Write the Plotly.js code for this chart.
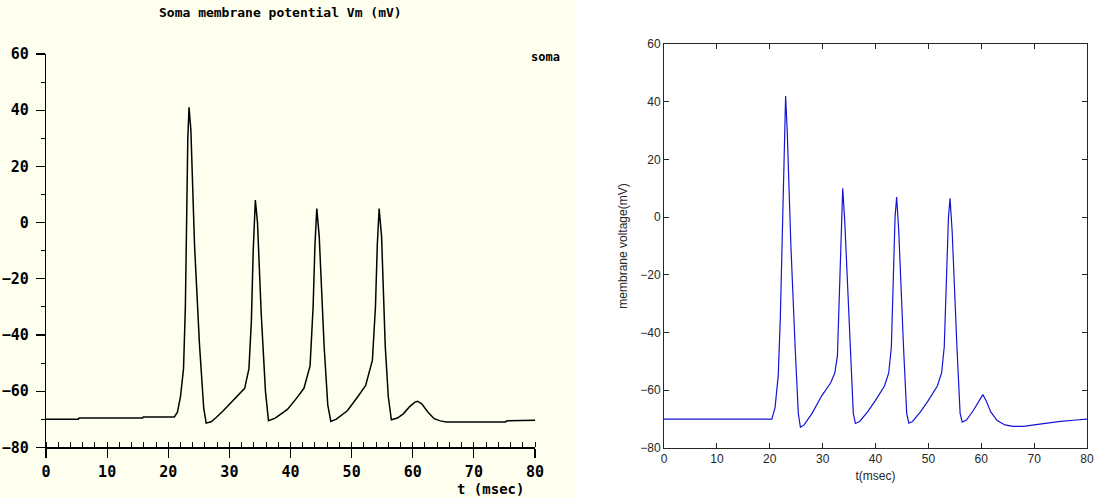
<!DOCTYPE html>
<html>
<head>
<meta charset="utf-8">
<script src="https://cdn.plot.ly/plotly-3.0.1.min.js"></script>
<style>
html,body{margin:0;padding:0;background:#ffffff;}
#chart{width:1098px;height:498px;}
</style>
</head>
<body>
<div id="chart"></div>
<script>
// Left panel (GENESIS-style soma trace)
const somaTime = [0, 5.3, 5.4, 15.8, 15.9, 21, 21.5, 22, 22.5, 22.8, 23.0, 23.2, 23.4, 23.7, 24.3, 25.1, 25.8, 26.2, 27, 27.8, 29, 30.3, 31.5, 32.5, 33.2, 33.6, 33.9, 34.25, 34.6, 35.2, 35.9, 36.4, 37.5, 39.5, 41, 42.2, 43.2, 43.7, 44.0, 44.3, 44.7, 45.5, 46.1, 46.6, 47.5, 49.3, 51, 52.3, 53.4, 53.9, 54.2, 54.5, 54.9, 55.5, 56.0, 56.5, 57.5, 58.5, 59.5, 60.3, 60.8, 61.5, 62.5, 63.5, 64.5, 65.5, 75.2, 75.3, 80];
const somaVm   = [-70, -70, -69.6, -69.6, -69.2, -69.2, -67.5, -62, -52, -30, 0, 30, 41, 33, -8, -43, -66, -71.4, -70.9, -69.5, -67, -64, -61.5, -59, -52, -35, -10, 8, 0, -32, -60, -70.5, -69.6, -66.5, -62.5, -59, -51, -30, -8, 5, -5, -44, -65, -70.8, -70, -67, -62, -58, -49, -30, -8, 5, -5, -44, -62, -70.2, -69.6, -68, -65.5, -64, -63.6, -64.6, -67.5, -69.8, -70.6, -71, -71, -70.6, -70.4];

// Right panel (MATLAB-style membrane voltage)
const simTime = [0, 20.4, 21, 21.6, 22, 22.4, 22.8, 23.0, 23.3, 24, 24.8, 25.4, 25.8, 26.5, 28, 29.8, 31.5, 32.3, 32.8, 33.2, 33.5, 33.8, 34.2, 35.2, 35.8, 36.2, 37, 38.5, 40, 41.7, 42.5, 43, 43.4, 43.7, 44.0, 44.4, 45.3, 45.9, 46.3, 47, 48.5, 50, 51.7, 52.5, 53, 53.4, 53.8, 54.1, 54.5, 55.4, 56.0, 56.4, 57.2, 58.5, 59.6, 60.3, 60.9, 61.8, 63, 64.5, 66, 68, 70, 72, 75, 78, 80];
const simVm   = [-70, -70, -66, -55, -35, 0, 35, 42, 30, -10, -45, -68, -72.8, -72, -68, -62, -57.5, -54, -48, -25, 0, 10, -2, -45, -68, -71.5, -70.8, -67.5, -63.5, -58.5, -54, -45, -20, 0, 7, -5, -45, -68, -71.4, -70.8, -67.5, -63.5, -58.5, -54, -45, -20, 0, 6.5, -5, -45, -68, -71, -70.3, -67, -63.5, -61.5, -63.5, -67.5, -70.5, -72, -72.5, -72.5, -72, -71.5, -70.8, -70.3, -70];

const leftTitle = "Soma membrane potential Vm (mV)";
const leftLegend = "soma";
const leftXLabel = "t (msec)";
const rightXLabel = "t(msec)";
const rightYLabel = "membrane voltage(mV)";

const W = 1098, H = 498;
const px = x => x / W;
const py = y => 1 - y / H;

const mono = {family: "DejaVu Sans Mono", size: 15, color: "#000000", weight: "bold"};
const sans = {family: "Liberation Sans, Arial", size: 12, color: "#262626"};

const traces = [
  {x: somaTime, y: somaVm, xaxis: "x", yaxis: "y", mode: "lines", type: "scatter",
   line: {color: "#000000", width: 1.5}, hoverinfo: "skip", showlegend: false},
  {x: simTime, y: simVm, xaxis: "x2", yaxis: "y2", mode: "lines", type: "scatter",
   line: {color: "#1414d2", width: 1.2}, hoverinfo: "skip", showlegend: false}
];

const layout = {
  width: W, height: H,
  margin: {l: 0, r: 0, t: 0, b: 0},
  paper_bgcolor: "#ffffff",
  plot_bgcolor: "rgba(0,0,0,0)",
  showlegend: false,
  shapes: [
    {type: "rect", xref: "paper", yref: "paper", x0: 0, x1: px(576), y0: 0, y1: 1,
     fillcolor: "#fffff0", line: {width: 0}, layer: "below"}
  ],
  xaxis: {
    domain: [px(46), px(535)], range: [0, 80], anchor: "y",
    showgrid: false, zeroline: false, showline: true, linecolor: "#000000", linewidth: 1.2,
    tickmode: "linear", tick0: 0, dtick: 10, ticks: "outside", ticklen: 9, tickwidth: 1.2, tickcolor: "#000000",
    minor: {dtick: 2, ticks: "inside", ticklen: 5, tickwidth: 1, tickcolor: "#000000", showgrid: false},
    tickfont: mono, ticklabelstandoff: 1
  },
  yaxis: {
    domain: [py(447.3), py(54)], range: [-80, 60], anchor: "x",
    showgrid: false, zeroline: false, showline: true, linecolor: "#000000", linewidth: 1.2,
    tickmode: "linear", tick0: -80, dtick: 20, ticks: "outside", ticklen: 9, tickwidth: 1.2, tickcolor: "#000000",
    minor: {dtick: 10, ticks: "outside", ticklen: 4, tickwidth: 1, tickcolor: "#000000", showgrid: false},
    tickfont: mono, ticklabelstandoff: 4
  },
  xaxis2: {
    domain: [px(664), px(1087)], range: [0, 80], anchor: "y2",
    showgrid: false, zeroline: false, showline: true, mirror: "ticks", linecolor: "#262626", linewidth: 1,
    tickmode: "linear", tick0: 0, dtick: 10, ticks: "inside", ticklen: 5, tickcolor: "#262626",
    tickfont: sans,
    title: {text: rightXLabel, font: sans, standoff: 6}
  },
  yaxis2: {
    domain: [py(448), py(44)], range: [-80, 60], anchor: "x2",
    showgrid: false, zeroline: false, showline: true, mirror: "ticks", linecolor: "#262626", linewidth: 1,
    tickmode: "linear", tick0: -80, dtick: 20, ticks: "inside", ticklen: 5, tickcolor: "#262626",
    tickfont: sans,
    title: {text: rightYLabel, font: sans, standoff: 10}
  },
  annotations: [
    {text: leftTitle, xref: "paper", yref: "paper", x: px(280), y: py(13), xanchor: "center", yanchor: "middle",
     showarrow: false, font: {family: "DejaVu Sans Mono", size: 13, color: "#000000", weight: "bold"}},
    {text: leftLegend, xref: "paper", yref: "paper", x: px(562), y: py(57), xanchor: "right", yanchor: "middle",
     showarrow: false, font: {family: "DejaVu Sans Mono", size: 12, color: "#000000", weight: "bold"}},
    {text: leftXLabel, xref: "paper", yref: "paper", x: px(490), y: py(489), xanchor: "center", yanchor: "middle",
     showarrow: false, font: {family: "DejaVu Sans Mono", size: 14, color: "#000000", weight: "bold"}}
  ]
};

Plotly.newPlot("chart", traces, layout, {staticPlot: true, displayModeBar: false});
</script>
</body>
</html>
